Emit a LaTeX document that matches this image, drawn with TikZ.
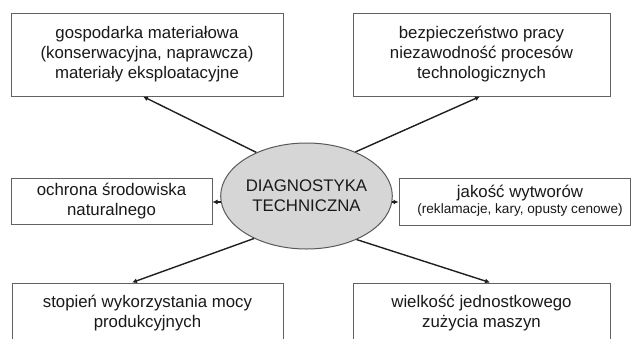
\documentclass[tikz,border=0pt]{standalone}
\usepackage{fontspec}
\setmainfont{Liberation Sans}
\usetikzlibrary{arrows.meta,calc,shapes.geometric}
\begin{document}
\begin{tikzpicture}[x=1pt,y=-1pt,
  every node/.style={font=\fontsize{16.8}{20}\selectfont, align=center, inner sep=0pt, text=black!90},
  factor/.style={draw=black!62, line width=1pt, fill=white, rectangle},
  core/.style={draw=black!65, line width=1pt, fill=black!16, ellipse,
               minimum width=168pt, minimum height=106pt},
  link/.style={draw=black!88, line width=1.4pt, -{Latex[length=5pt,width=5pt]}}
]
\useasboundingbox (0,0) rectangle (632,338);
\clip (0,0) rectangle (632,338);

% central topic
\node[core] (e) at (306.5,196) {DIAGNOSTYKA\\TECHNICZNA};

% surrounding factors
\node[factor, minimum width=272pt, minimum height=83pt] (b1) at (147,54.5)
  {gospodarka materiałowa\\(konserwacyjna, naprawcza)\\materiały eksploatacyjne};
\node[factor, minimum width=257pt, minimum height=83pt] (b2) at (481.5,54.5)
  {bezpieczeństwo pracy\\niezawodność procesów\\technologicznych};
\node[factor, minimum width=201pt, minimum height=46pt] (b3) at (111.5,201)
  {ochrona środowiska\\naturalnego};
\node[factor, minimum width=231pt, minimum height=47pt] (b4) at (514.5,201.5) {};
\node (b4t) at (520,200.5) {jakość wytworów\\[-4pt]{\fontsize{13.6}{16}\selectfont(reklamacje, kary, opusty cenowe)}};
\node[factor, minimum width=271pt, minimum height=60pt] (b5) at (147.5,313)
  {stopień wykorzystania mocy\\produkcyjnych};
\node[factor, minimum width=257pt, minimum height=60pt] (b6) at (481.5,313)
  {wielkość jednostkowego\\zużycia maszyn};

% connectors from the centre outwards
\draw[link] (e.139.7) -- ($(b1.south)+(-4,0)$);
\draw[link] (e.42.1) -- ($(b2.south)+(-1.5,0)$);
\draw[link] (e.184) -- (e.184 -| b3.east);
\draw[link] (e.356) -- (e.356 -| b4.west);
\draw[link] (e.219.6) -- ($(b5.north)+(-15.5,0)$);
\draw[link] (e.319.8) -- ($(b6.north)+(8.5,0)$);
\end{tikzpicture}
\end{document}
